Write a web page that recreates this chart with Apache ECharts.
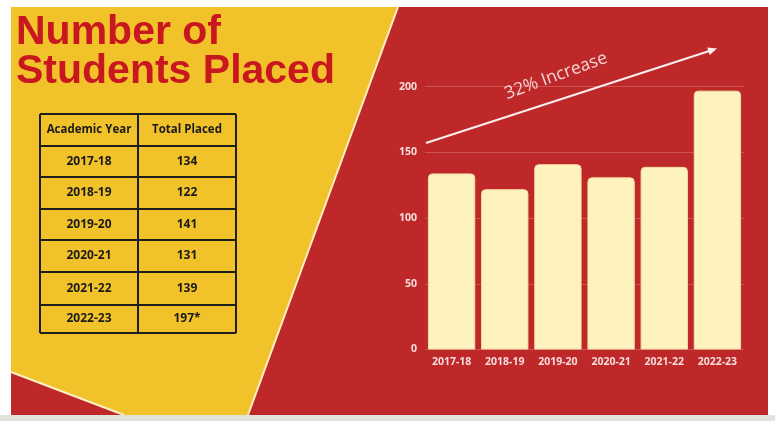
<!DOCTYPE html>
<html>
<head>
<meta charset="utf-8">
<script src="https://cdn.jsdelivr.net/npm/echarts@6/dist/echarts.min.js"></script>
<style>
html,body{margin:0;padding:0;background:#fff;}
#c{width:775px;height:421px;}
</style>
</head>
<body>
<div id="c"></div>
<script>
// ---- data ----
const years = ['2017-18', '2018-19', '2019-20', '2020-21', '2021-22', '2022-23'];
const placed = [134, 122, 141, 131, 139, 197];
const placedLabels = ['134', '122', '141', '131', '139', '197*'];
const tableHeaders = ['Academic Year', 'Total Placed'];
const titleLines = ['Number of', 'Students Placed'];
const increaseText = '32% Increase';
const yTicks = { min: 0, max: 200, interval: 50 };

// ---- colours ----
const YELLOW = '#F1C229';
const RED = '#BF2828';
const CREAM = '#FEF2BE';
const TITLE_RED = '#C8171E';
const LABEL = '#F6DCDC';

const chart = echarts.init(document.getElementById('c'));

// table layout
const tX = [40, 138, 236];
const tY = [114, 146, 177, 209, 240, 272, 305, 333];
const graphics = [];

// backgrounds
graphics.push({ type: 'rect', z: -20, shape: { x: 0, y: 0, width: 775, height: 421 }, style: { fill: '#ffffff' } });
graphics.push({ type: 'rect', z: -19, shape: { x: 11, y: 7, width: 757, height: 408 }, style: { fill: YELLOW } });
graphics.push({ type: 'polygon', z: -18, shape: { points: [[398, 7], [768, 7], [768, 415], [248, 415]] }, style: { fill: RED } });
graphics.push({ type: 'polygon', z: -18, shape: { points: [[11, 372], [124, 415], [11, 415]] }, style: { fill: RED } });
graphics.push({ type: 'line', z: -17, shape: { x1: 398, y1: 7, x2: 248, y2: 415 }, style: { stroke: '#FDF0C4', lineWidth: 2 } });
graphics.push({ type: 'line', z: -17, shape: { x1: 11, y1: 372, x2: 124, y2: 415 }, style: { stroke: '#FDF0C4', lineWidth: 2 } });
graphics.push({ type: 'rect', z: -17, shape: { x: 0, y: 415, width: 775, height: 6 }, style: { fill: '#E3E1DC' } });

// title
titleLines.forEach((t, i) => {
  graphics.push({
    type: 'text', z: 5, x: 16, y: 32.5 + i * 39.5,
    style: { text: t, fill: TITLE_RED, font: 'bold 41px "Liberation Sans", Arial, sans-serif', verticalAlign: 'middle', align: 'left' }
  });
});

// table
for (let r = 0; r < tY.length; r++) {
  graphics.push({ type: 'line', z: 5, shape: { x1: tX[0], y1: tY[r], x2: tX[2], y2: tY[r] }, style: { stroke: '#1E1E1E', lineWidth: 2 } });
}
tX.forEach(x => {
  graphics.push({ type: 'line', z: 5, shape: { x1: x, y1: tY[0], x2: x, y2: tY[tY.length - 1] }, style: { stroke: '#1E1E1E', lineWidth: 2 } });
});
const cellFont = 'bold 12px "Open Sans", sans-serif';
tableHeaders.forEach((h, c) => {
  graphics.push({ type: 'text', z: 6, x: (tX[c] + tX[c + 1]) / 2, y: (tY[0] + tY[1]) / 2,
    style: { text: h, fill: '#1A1A1A', font: 'bold 11.5px "Open Sans", sans-serif', align: 'center', verticalAlign: 'middle' } });
});
years.forEach((yr, i) => {
  const cy = (tY[i + 1] + tY[i + 2]) / 2;
  graphics.push({ type: 'text', z: 6, x: (tX[0] + tX[1]) / 2, y: cy,
    style: { text: yr, fill: '#1A1A1A', font: cellFont, align: 'center', verticalAlign: 'middle' } });
  graphics.push({ type: 'text', z: 6, x: (tX[1] + tX[2]) / 2, y: cy,
    style: { text: placedLabels[i], fill: '#1A1A1A', font: cellFont, align: 'center', verticalAlign: 'middle' } });
});

// arrow annotation
const a0 = [426, 143], a1 = [717, 48.5];
const dx = a1[0] - a0[0], dy = a1[1] - a0[1], len = Math.hypot(dx, dy);
const ux = dx / len, uy = dy / len;
graphics.push({ type: 'line', z: 5, shape: { x1: a0[0], y1: a0[1], x2: a1[0] - ux * 4, y2: a1[1] - uy * 4 }, style: { stroke: '#FBEFEF', lineWidth: 2 } });
graphics.push({ type: 'polygon', z: 5, shape: { points: [
  a1,
  [a1[0] - ux * 9 - uy * 4, a1[1] - uy * 9 + ux * 4],
  [a1[0] - ux * 9 + uy * 4, a1[1] - uy * 9 - ux * 4]
] }, style: { fill: '#FBEFEF' } });
graphics.push({ type: 'text', z: 5, x: 556, y: 76, rotation: 20 * Math.PI / 180,
  style: { text: increaseText, fill: '#F4D4D4', font: '17.5px "Open Sans", sans-serif', align: 'center', verticalAlign: 'middle' } });

chart.setOption({
  animation: false,
  backgroundColor: 'transparent',
  grid: { left: 425, right: 31, top: 86.7, bottom: 71.5 },
  xAxis: {
    type: 'category', data: years,
    axisLine: { show: false }, axisTick: { show: false },
    axisLabel: { color: LABEL, fontWeight: 'bold', fontSize: 10.5, fontFamily: '"Open Sans", sans-serif', margin: 7 }
  },
  yAxis: {
    type: 'value', min: yTicks.min, max: yTicks.max, interval: yTicks.interval,
    axisLine: { show: false }, axisTick: { show: false },
    splitLine: { lineStyle: { color: 'rgba(255,255,255,0.2)', width: 1 } },
    axisLabel: { color: LABEL, fontWeight: 'bold', fontSize: 10.5, fontFamily: '"Open Sans", sans-serif', margin: 8 }
  },
  series: [{
    type: 'bar', data: placed, barCategoryGap: '11%',
    itemStyle: { color: CREAM, borderRadius: [4, 4, 0, 0], borderColor: '#F3DFA6', borderWidth: 1 }
  }],
  graphic: { elements: graphics }
});
</script>
</body>
</html>
